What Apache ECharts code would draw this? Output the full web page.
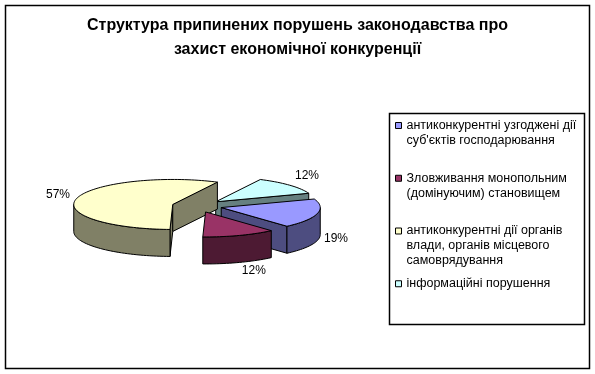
<!DOCTYPE html>
<html>
<head>
<meta charset="utf-8">
<script src="https://cdn.jsdelivr.net/npm/echarts@6/dist/echarts.min.js"></script>
<style>html,body{margin:0;padding:0;background:#fff}#c{width:595px;height:374px}</style>
</head>
<body>
<div id="c"></div>
<script>
// ---- data ----
const titleText = 'Структура припинених порушень законодавства про\nзахист економічної конкуренції';
const categories = [
  "антиконкурентні узгоджені дії суб'єктів господарювання",
  'Зловживання монопольним (домінуючим) становищем',
  'антиконкурентні дії органів влади, органів місцевого самоврядування',
  'інформаційні порушення'
];
const legendLines = [
  ['антиконкурентні узгоджені дії', "суб'єктів господарювання"],
  ['Зловживання монопольним', '(домінуючим) становищем'],
  ['антиконкурентні дії органів', 'влади, органів місцевого', 'самоврядування'],
  ['інформаційні порушення']
];
const values = [19, 12, 57, 12];
const valueLabels = ['19%', '12%', '57%', '12%'];

// ---- styling / layout ----
const topColors = ['#9999FF', '#993366', '#FFFFCC', '#CCFFFF'];
const sideColors = ['#4D4D80', '#4D1A33', '#808066', '#668080'];
const zOrder = [3, 4, 2, 1];
const FONT = '"Liberation Sans", Arial, sans-serif';
const START = 70;          // first slice start angle, clockwise from north
const CX = 197, CY = 206;  // pie centre
const RX = 99, RY = 25;    // ellipse radii
const H = 27;              // depth
const EXPLODE = 25;        // explosion distance
const LRX = 106, LRY = 40, LDROP = 21;
const LEG_TOP = 113, LEG_BOTTOM = 324, LEG_PAD = 5;
const LH = 15;

const total = values.reduce((a, b) => a + b, 0);
const rad = d => d * Math.PI / 180;
function sliceAngles(i) {
  let s = START;
  for (let j = 0; j < i; j++) s += values[j] / total * 360;
  return [s, s + values[i] / total * 360];
}
function rim(V, t, dy) {
  return [V[0] + RX * Math.sin(rad(t)), V[1] - RY * Math.cos(rad(t)) + (dy || 0)];
}
function arcPts(V, t0, t1, dy) {
  const n = Math.max(2, Math.ceil(Math.abs(t1 - t0) / 2));
  const pts = [];
  for (let k = 0; k <= n; k++) pts.push(rim(V, t0 + (t1 - t0) * k / n, dy));
  return pts;
}
function makeRender(i) {
  return function (params, api) {
    const [a0, a1] = sliceAngles(i);
    const mid = (a0 + a1) / 2;
    const k = RY / RX;
    const V = [CX + EXPLODE * Math.sin(rad(mid)), CY - EXPLODE * k * Math.cos(rad(mid))];
    const Vb = [V[0], V[1] + H];
    const stroke = { stroke: '#000', lineWidth: 1, lineJoin: 'round' };
    const children = [];
    const wall = (t) => ({
      type: 'polygon',
      shape: { points: [V, rim(V, t), rim(V, t, H), Vb] },
      style: Object.assign({ fill: sideColors[i] }, stroke)
    });
    if (Math.sin(rad(a0)) < -1e-6) children.push(wall(a0));
    if (Math.sin(rad(a1)) > 1e-6) children.push(wall(a1));
    for (let m = -1; m <= 1; m++) {
      const f0 = Math.max(a0, 90 + 360 * m), f1 = Math.min(a1, 270 + 360 * m);
      if (f1 > f0) {
        const topArc = arcPts(V, f0, f1, 0);
        const botArc = arcPts(V, f0, f1, H).reverse();
        children.push({
          type: 'polygon',
          shape: { points: topArc.concat(botArc) },
          style: Object.assign({ fill: sideColors[i] }, stroke)
        });
      }
    }
    children.push({
      type: 'polygon',
      shape: { points: [V].concat(arcPts(V, a0, a1, 0)) },
      style: Object.assign({ fill: topColors[i] }, stroke)
    });
    const s = Math.sin(rad(mid)), c = Math.cos(rad(mid));
    children.push({
      type: 'text',
      style: {
        text: valueLabels[i],
        x: V[0] + LRX * s,
        y: V[1] - LRY * c + (c < 0 ? LDROP : 0),
        align: s > 0.05 ? 'left' : (s < -0.05 ? 'right' : 'center'),
        verticalAlign: 'middle',
        fontSize: 12, fontFamily: FONT, fill: '#000'
      }
    });
    return { type: 'group', children };
  };
}

// legend entries: equal slots inside the legend box, text top-aligned in each slot
const slot = (LEG_BOTTOM - LEG_TOP) / legendLines.length;
const chart = echarts.init(document.getElementById('c'), null, { renderer: 'canvas' });
chart.setOption({
  backgroundColor: '#fff',
  animation: false,
  title: {
    text: titleText,
    left: 'center', top: 14, padding: 0,
    textStyle: { fontSize: 16, fontWeight: 'bold', fontFamily: FONT, color: '#000', lineHeight: 24 }
  },
  legend: legendLines.map((lines, i) => {
    const n = lines.length;
    const center = LEG_TOP + i * slot + LEG_PAD + LH / 2;
    return {
      data: [categories[i]],
      orient: 'vertical',
      left: 395,
      top: center - LH * (2 * n - 1) / 2,
      padding: 0,
      itemGap: 0,
      itemWidth: 6, itemHeight: 6,
      icon: 'rect',
      selectedMode: false,
      itemStyle: { borderColor: '#000', borderWidth: 1 },
      formatter: () => '\n'.repeat(n - 1) + lines.join('\n'),
      textStyle: { fontSize: 12.5, fontFamily: FONT, color: '#000', lineHeight: LH }
    };
  }),
  graphic: [
    { type: 'rect', shape: { x: 5.5, y: 5.5, width: 584, height: 363 }, style: { fill: 'none', stroke: '#000', lineWidth: 1.5 }, z: -1, silent: true },
    { type: 'rect', shape: { x: 389.5, y: LEG_TOP + 0.5, width: 195, height: LEG_BOTTOM - LEG_TOP }, style: { fill: 'none', stroke: '#000', lineWidth: 1.5 }, z: -1, silent: true }
  ],
  series: values.map((v, i) => ({
    type: 'custom',
    name: categories[i],
    coordinateSystem: 'none',
    renderItem: makeRender(i),
    data: [[v]],
    itemStyle: { color: topColors[i] },
    z: zOrder[i],
    silent: true
  }))
});
</script>
</body>
</html>
